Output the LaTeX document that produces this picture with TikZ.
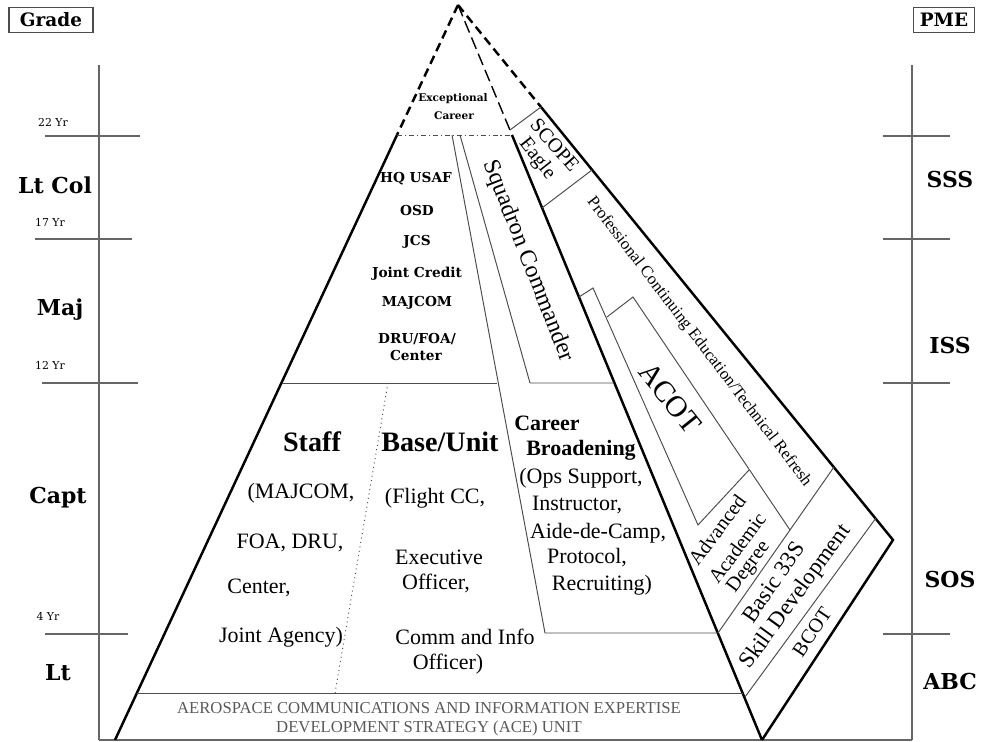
\documentclass[tikz,border=0pt]{standalone}
\usepackage{fontspec}
\setmainfont{Liberation Serif}
\newfontfamily\wideserif{DejaVu Serif}
\begin{document}
\begin{tikzpicture}[x=0.02cm,y=-0.02cm, % one unit = one pixel of the chart
  rim/.style={line width=1.4pt},
  rimdash/.style={line width=1.4pt,dash pattern=on 5pt off 3pt},
  seam/.style={line width=0.55pt,black!70},
  axisline/.style={line width=0.6pt,black!60},
  headbox/.style={draw=black!70,line width=0.6pt,font=\wideserif\bfseries\fontsize{10.5}{12}\selectfont,minimum height=0.5cm},
  rank/.style={font=\wideserif\bfseries\fontsize{12.5}{14}\selectfont},
  yrs/.style={font=\wideserif\fontsize{6.2}{7}\selectfont},
  post/.style={font=\wideserif\bfseries\fontsize{7.8}{9}\selectfont},
  big/.style={font=\bfseries\fontsize{16}{18}\selectfont},
  body/.style={font=\fontsize{12.5}{14}\selectfont},
  inner sep=0pt]
  \useasboundingbox (0,0) rectangle (981,742);

  % grade scale on the left
  \node[headbox,minimum width=1.68cm] (grade) at (51,20) {Grade};
  \coordinate (G1) at (99,65);
  \coordinate (G2) at (99,740);
  \draw[axisline] (G1) -- (G2);
  \draw[axisline] (45,136) -- (140,136);
  \draw[axisline] (35,239) -- (132,239);
  \draw[axisline] (42,383) -- (138,383);
  \draw[axisline] (45,634) -- (128,634);
  \node[yrs] (y22) at (53,122) {22 Yr};
  \node[yrs] (y17) at (50,222) {17 Yr};
  \node[yrs] (y12) at (50,365) {12 Yr};
  \node[yrs] (y4) at (48,616) {4 Yr};
  \node[rank] (ltcol) at (55,185) {Lt Col};
  \node[rank] (maj) at (60,310) {Maj};
  \node[rank] (capt) at (58,498) {Capt};
  \node[rank] (lt) at (58,673) {Lt};

  % PME scale on the right
  \node[headbox,minimum width=1.22cm] (pme) at (944,20) {PME};
  \coordinate (P1) at (912,65);
  \coordinate (P2) at (912,740);
  \draw[axisline] (P1) -- (P2);
  \draw[axisline] (883,136) -- (950,136);
  \draw[axisline] (883,239) -- (950,239);
  \draw[axisline] (883,383) -- (950,383);
  \draw[axisline] (883,634) -- (950,634);
  \node[rank] (sss) at (950,180) {SSS};
  \node[rank] (iss) at (950,346) {ISS};
  \node[rank] (sos) at (950,580) {SOS};
  \node[rank] (abc) at (950,682) {ABC};

  \draw[axisline] (G2) -- (P2);

  % the pyramid and the PME wedge
  \coordinate (T) at (458,5);
  \coordinate (BL) at (115,740);
  \coordinate (BR) at (762,740);
  \coordinate (PV) at (893,540);
  \coordinate (LC) at (397,135);
  \coordinate (RC) at (512,135);
  \coordinate (PS) at (541,107);

  \draw[rimdash] (T) -- (LC);
  \draw[rim] (LC) -- (BL);
  \draw[line width=0.8pt,dash pattern=on 7pt off 3pt] (T) -- (RC);
  \draw[rim] (RC) -- (BR);
  \draw[rimdash] (T) -- (PS);
  \draw[rim] (PS) -- (PV) -- (BR);

  \draw[seam,dash pattern=on 3pt off 1.5pt on 0.8pt off 1.5pt] (LC) -- (RC);
  \draw[seam] (452,135) -- (545,633) -- (718,633);
  \draw[seam] (460,135) -- (530,383) -- (614,383);
  \draw[seam] (282,383) -- (497,383);
  \draw[seam,dotted] (388,383) -- (335,693);
  \draw[seam] (137,693) -- (743,693);

  % inside the wedge
  \draw[seam] (510,130) -- (PS);
  \draw[seam] (542,208) -- (592,170);
  \draw[seam] (579,297) -- (593,288) -- (698,525) -- (749,470);
  \draw[seam] (607,317) -- (633,297) -- (790,530);
  \draw[seam] (718,633) -- (834,467);
  \draw[seam] (745,697) -- (876,518);

  % texts of the pyramid
  \node[font=\wideserif\bfseries\fontsize{6}{7}\selectfont] (exc1) at (453,99) {Exceptional};
  \node[font=\wideserif\bfseries\fontsize{6}{7}\selectfont] (exc2) at (454,116) {Career};
  \node[post] (hq) at (416,179) {HQ USAF};
  \node[post] (osd) at (417,211) {OSD};
  \node[post] (jcs) at (417,242) {JCS};
  \node[post] (jcr) at (417,274) {Joint Credit};
  \node[post] (mjc) at (417,303) {MAJCOM};
  \node[post] (dru) at (417,339) {DRU/FOA/};
  \node[post] (ctr) at (416,356) {Center};

  \node[big] (staff) at (312,442) {Staff};
  \node[body] (st1) at (301,493) {(MAJCOM,};
  \node[body] (st2) at (290,543) {FOA, DRU,};
  \node[body] (st3) at (259,588) {Center,};
  \node[body] (st4) at (281,637) {Joint Agency)};

  \node[big] (base) at (440,442) {Base/Unit};
  \node[body] (bu1) at (435,498) {(Flight CC,};
  \node[body] (bu2) at (439,557) {Executive};
  \node[body] (bu3) at (436,583) {Officer,};
  \node[body] (bu4) at (465,637) {Comm and Info};
  \node[body] (bu5) at (448,664) {Officer)};

  \node[body,font=\bfseries\fontsize{12.5}{14}\selectfont] (cb1) at (547,423) {Career};
  \node[body,font=\bfseries\fontsize{12.5}{14}\selectfont] (cb2) at (581,450) {Broadening};
  \node[body] (cb3) at (581,478) {(Ops Support,};
  \node[body] (cb4) at (577,505) {Instructor,};
  \node[body] (cb5) at (598,533) {Aide-de-Camp,};
  \node[body] (cb6) at (587,558) {Protocol,};
  \node[body] (cb7) at (602,585) {Recruiting)};

  \node[rotate=-68.6,font=\fontsize{13.5}{15}\selectfont] (sqd) at (528,261) {Squadron Commander};

  \node[text=black!65,font=\fontsize{9.5}{11}\selectfont] (ace1) at (429,708) {AEROSPACE COMMUNICATIONS AND INFORMATION EXPERTISE};
  \node[text=black!65,font=\fontsize{9.5}{11}\selectfont] (ace2) at (429,728) {DEVELOPMENT STRATEGY (ACE) UNIT};

  % texts of the wedge
  \node[rotate=-48.7,font=\fontsize{11.5}{13}\selectfont] (scope) at (555,145) {SCOPE};
  \node[rotate=-51.7,font=\fontsize{11.5}{13}\selectfont] (eagle) at (537,159) {Eagle};
  \node[rotate=-52.6,font=\fontsize{9.5}{11}\selectfont] (pce) at (699,342) {Professional Continuing Education/Technical Refresh};
  \node[rotate=-51.4,font=\fontsize{17}{19}\selectfont] (acot) at (670,398) {ACOT};
  \node[rotate=53.4,font=\fontsize{11.5}{13}\selectfont] (aad1) at (717,530) {Advanced};
  \node[rotate=53.4,font=\fontsize{11.5}{13}\selectfont] (aad2) at (737,548) {Academic};
  \node[rotate=53.4,font=\fontsize{11.5}{13}\selectfont] (aad3) at (749,567) {Degree};
  \node[rotate=55.5,font=\fontsize{13}{15}\selectfont] (b33) at (773,582) {Basic 33S};
  \node[rotate=54,font=\fontsize{13}{15}\selectfont] (skd) at (796,597) {Skill Development};
  \node[rotate=56,font=\fontsize{11.5}{13}\selectfont] (bcot) at (812,632) {BCOT};
\end{tikzpicture}
\end{document}
